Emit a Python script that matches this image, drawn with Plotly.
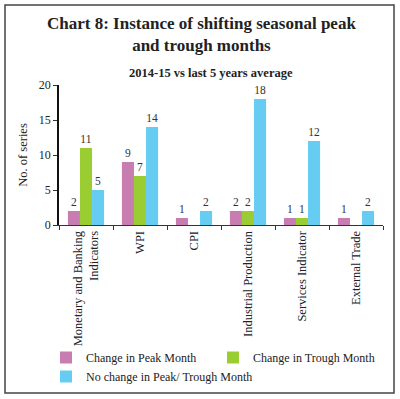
import plotly.graph_objects as go

categories = ["Monetary and Banking<br>Indicators", "WPI", "CPI", "Industrial Production",
              "Services Indicator", "External Trade"]
peak = [2, 9, 1, 2, 1, 1]
trough = [11, 7, None, 2, 1, None]
nochange = [5, 14, 2, 18, 12, 2]
series_names = ["Change in Peak Month", "Change in Trough Month", "No change in Peak/ Trough Month"]
colors = ["#C87DB0", "#9ACD32", "#66CCF2"]
y_ticks = [0, 5, 10, 15, 20]

W, H = 400, 399
L, R, T, B = 59, 17, 85, 174
FONT = "Liberation Serif"

fig = go.Figure()
for name, vals, col in zip(series_names, [peak, trough, nochange], colors):
    fig.add_trace(go.Bar(
        x=categories, y=vals, name=name, marker=dict(color=col, line=dict(width=0)),
        text=[("" if v is None else str(v)) for v in vals], textposition="outside",
        textfont=dict(size=11.5, color="#333333", family=FONT),
        outsidetextfont=dict(size=11.5, color="#333333", family=FONT), cliponaxis=False,
    ))

pw, ph = W - L - R, H - T - B
def px(x): return (x - L) / pw
def py(y): return (H - B - y) / ph

fig.update_layout(
    width=W, height=H, margin=dict(l=L, r=R, t=T, b=B, autoexpand=False),
    paper_bgcolor="white", plot_bgcolor="white",
    barmode="group", bargap=0.33, bargroupgap=0,
    font=dict(family=FONT, color="#222", size=11),
    showlegend=True,
    legend=dict(orientation="h", x=px(46), y=py(343), xanchor="left", yanchor="top",
                bgcolor="rgba(0,0,0,0)",
                entrywidth=122, font=dict(size=12, family=FONT), tracegroupgap=0,
                traceorder="normal"),
    xaxis=dict(showline=True, linecolor="#333", linewidth=1, ticks="outside", automargin=False,
               tickson="boundaries", ticklen=4, tickcolor="#333", tickangle=-90,
               tickfont=dict(size=12.5, family=FONT)),
    yaxis=dict(range=[0, 20], tickvals=y_ticks, showline=True, linecolor="#111", linewidth=1.5,
               automargin=False,
               ticks="outside", ticklen=4, tickcolor="#333", showgrid=False, zeroline=False,
               tickfont=dict(size=12, family=FONT),
               title=dict(text="No. of series", font=dict(size=12.5, family=FONT), standoff=8)),
    annotations=[
        dict(text="<b>Chart 8: Instance of shifting seasonal peak<br>and trough months</b>",
             xref="paper", yref="paper", x=px(201), y=py(35), xanchor="center", yanchor="middle",
             showarrow=False, font=dict(size=17, family=FONT, color="#222")),
        dict(text="<b>2014-15 vs last 5 years average</b>", xref="paper", yref="paper",
             x=px(211), y=py(73), xanchor="center", yanchor="middle", showarrow=False,
             font=dict(size=12.5, family=FONT, color="#222")),
    ],
    shapes=[dict(type="rect", xref="paper", yref="paper", x0=px(5), x1=px(394), y0=py(5), y1=py(393),
                 line=dict(color="#444", width=1.5), layer="below")],
)
fig.write_html("out.html", post_script="document.body.style.margin='0';",
               config={"displayModeBar": False})
